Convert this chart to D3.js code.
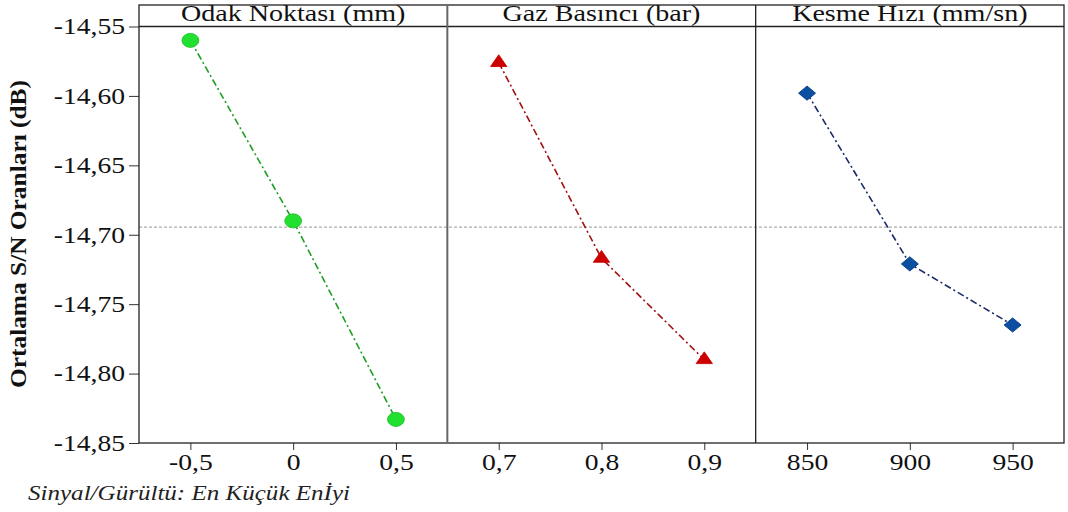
<!DOCTYPE html>
<html><head><meta charset="utf-8">
<script src="https://cdn.jsdelivr.net/npm/d3@7"></script>
<style>body{margin:0;background:#fff}svg{display:block}</style>
</head><body>
<svg id="c" width="1068" height="512"></svg>
<script>
const panelTitles = ["Odak Noktası (mm)", "Gaz Basıncı (bar)", "Kesme Hızı (mm/sn)"];
const levels1 = ["-0,5", "0", "0,5"];
const levels2 = ["0,7", "0,8", "0,9"];
const levels3 = ["850", "900", "950"];
const values1 = [-14.560, -14.690, -14.833];
const values2 = [-14.576, -14.717, -14.790];
const values3 = [-14.598, -14.721, -14.765];
const yTicks = [-14.55, -14.60, -14.65, -14.70, -14.75, -14.80, -14.85];
const meanValue = -14.6945;
const yLabel = "Ortalama S/N Oranları (dB)";
const caption = "Sinyal/Gürültü: En Küçük Enİyi";

const panels = [
  {title: panelTitles[0], levels: levels1, values: values1, shape: d3.symbolCircle, rot: 0, fill: "#22e030", stroke: "#1cc028", line: "#1e9e22", size: 154},
  {title: panelTitles[1], levels: levels2, values: values2, shape: d3.symbolTriangle, rot: 0, fill: "#cc0000", stroke: "#cc0000", line: "#a01010", size: 80},
  {title: panelTitles[2], levels: levels3, values: values3, shape: d3.symbolSquare, rot: 45, fill: "#0a4fa0", stroke: "#0a3f90", line: "#1a2a6a", size: 100}
];

const svg = d3.select("#c");
const L = 139, R = 1064, T = 26.5, B = 443, H0 = 5;
const pw = (R - L) / 3;
const y = d3.scaleLinear().domain([-14.85, -14.55]).range([B, T]);
const font = '"Liberation Serif", "Tinos", "Times New Roman", serif';
function widen(k) {
  return sel => sel.each(function () {
    const w = this.getComputedTextLength();
    d3.select(this).attr("textLength", w * k).attr("lengthAdjust", "spacingAndGlyphs");
  });
}

// mean line
svg.append("line").attr("x1", L).attr("x2", R).attr("y1", y(meanValue)).attr("y2", y(meanValue))
  .attr("stroke", "#999").attr("stroke-width", 1).attr("stroke-dasharray", "3,2");

// y axis
const ya = svg.append("g").attr("transform", `translate(${L},0)`)
  .call(d3.axisLeft(y).tickValues(yTicks).tickSize(10).tickPadding(4).tickFormat(d => d3.format(".2f")(d).replace(".", ",").replace("−", "-")));
ya.select(".domain").remove();
ya.attr("font-family", null);
ya.selectAll("line").attr("stroke", "#333");
ya.selectAll("text").style("font-family", font).attr("font-size", 23).attr("fill", "#111").call(widen(1.2));

panels.forEach((p, i) => {
  const x0 = L + i * pw, x1 = x0 + pw;
  const x = d3.scalePoint().domain(p.levels).range([x0, x1]).padding(0.5);
  const xa = svg.append("g").attr("transform", `translate(0,${B})`)
    .call(d3.axisBottom(x).tickSize(7).tickPadding(4));
  xa.select(".domain").remove();
  xa.attr("font-family", null);
  xa.selectAll("line").attr("stroke", "#333");
  xa.selectAll("text").style("font-family", font).attr("font-size", 23).attr("fill", "#111").call(widen(1.2));

  const pts = p.levels.map((l, k) => [x(l), y(p.values[k])]);
  svg.append("path").attr("d", d3.line()(pts)).attr("fill", "none")
    .attr("stroke", p.line).attr("stroke-width", 1.6).attr("stroke-dasharray", "7,3,2,3");
  svg.selectAll(null).data(pts).enter().append("path")
    .attr("d", d3.symbol().type(p.shape).size(p.size))
    .attr("transform", d => `translate(${d[0]},${d[1]}) scale(1.2,1) rotate(${p.rot})`)
    .attr("fill", p.fill).attr("stroke", p.stroke).attr("stroke-width", 0.8);

  svg.append("text").attr("x", (x0 + x1) / 2).attr("y", 20.5).attr("text-anchor", "middle")
    .style("font-family", font).attr("font-size", 23).attr("fill", "#111").text(p.title).call(widen(1.22));
});

// frame
const fr = svg.append("g").attr("fill", "none").attr("stroke", "#222").attr("stroke-width", 1.3);
fr.append("rect").attr("x", L).attr("y", H0).attr("width", R - L).attr("height", B - H0);
fr.append("line").attr("x1", L).attr("x2", R).attr("y1", T).attr("y2", T);
fr.append("line").attr("x1", L + pw).attr("x2", L + pw).attr("y1", H0).attr("y2", B).attr("stroke", "#666").attr("stroke-width", 2);
fr.append("line").attr("x1", L + 2 * pw).attr("x2", L + 2 * pw).attr("y1", H0).attr("y2", B);

svg.append("text").attr("transform", `translate(26,234) rotate(-90)`)
  .attr("text-anchor", "middle").style("font-family", font).attr("font-weight", "bold")
  .attr("font-size", 23).attr("fill", "#111").attr("textLength", 308).attr("lengthAdjust", "spacingAndGlyphs").text(yLabel);

svg.append("text").attr("x", 28).attr("y", 500).style("font-family", font).attr("font-style", "italic")
  .attr("font-size", 21).attr("fill", "#222").attr("textLength", 322).attr("lengthAdjust", "spacingAndGlyphs").text(caption);
</script>
</body></html>
